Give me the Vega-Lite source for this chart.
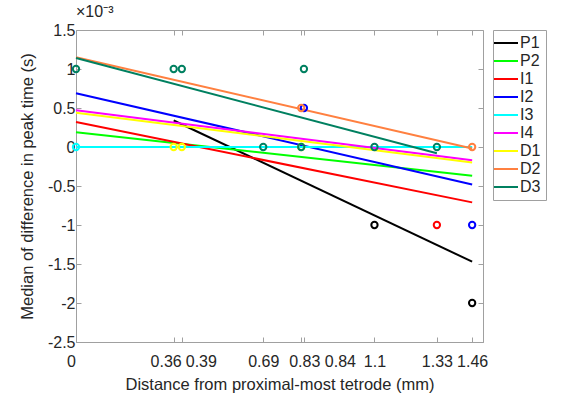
{
  "$schema": "https://vega.github.io/schema/vega-lite/v6.json",
  "width": 407,
  "height": 312,
  "autosize": {"type": "none"},
  "padding": {"left": 76, "top": 30, "right": 81, "bottom": 58},
  "background": "white",
  "config": {
    "font": "Liberation Sans",
    "view": {"stroke": "#a0a0a0", "strokeWidth": 1},
    "axis": {"grid": false, "domainColor": "#a0a0a0", "tickColor": "#a0a0a0", "labelColor": "#262626", "titleColor": "#262626", "labelFontSize": 16, "titleFontSize": 16.5, "titleFontWeight": "normal", "labelFont": "Liberation Sans", "titleFont": "Liberation Sans"}
  },
  "title": {"text": "×10⁻³", "anchor": "start", "frame": "group", "fontSize": 16, "fontWeight": "normal", "color": "#262626", "offset": 2, "dx": 0},
  "datasets": {
    "lines": [
      {"series": "P1", "x": 0.36, "y": 0.34},
      {"series": "P1", "x": 1.46, "y": -1.47},
      {"series": "P2", "x": 0, "y": 0.19},
      {"series": "P2", "x": 1.46, "y": -0.37},
      {"series": "I1", "x": 0, "y": 0.32},
      {"series": "I1", "x": 1.46, "y": -0.71},
      {"series": "I2", "x": 0, "y": 0.69},
      {"series": "I2", "x": 1.46, "y": -0.48},
      {"series": "I3", "x": 0, "y": 0},
      {"series": "I3", "x": 1.46, "y": 0},
      {"series": "I4", "x": 0, "y": 0.47},
      {"series": "I4", "x": 1.46, "y": -0.17},
      {"series": "D1", "x": 0, "y": 0.44},
      {"series": "D1", "x": 1.46, "y": -0.2},
      {"series": "D2", "x": 0, "y": 1.15},
      {"series": "D2", "x": 1.46, "y": -0.02},
      {"series": "D3", "x": 0, "y": 1.14},
      {"series": "D3", "x": 1.33, "y": -0.08}
    ],
    "points": [
      {"series": "P1", "x": 1.1, "y": -1},
      {"series": "P1", "x": 1.46, "y": -2},
      {"series": "I1", "x": 1.33, "y": -1},
      {"series": "I2", "x": 0.84, "y": 0.5},
      {"series": "I2", "x": 1.46, "y": -1},
      {"series": "I3", "x": 0, "y": 0},
      {"series": "D1", "x": 0.36, "y": 0},
      {"series": "D1", "x": 0.39, "y": 0},
      {"series": "D1", "x": 0.83, "y": 0},
      {"series": "D2", "x": 0.83, "y": 0.5},
      {"series": "D2", "x": 1.46, "y": 0},
      {"series": "D3", "x": 0, "y": 1},
      {"series": "D3", "x": 0.36, "y": 1},
      {"series": "D3", "x": 0.39, "y": 1},
      {"series": "D3", "x": 0.84, "y": 1},
      {"series": "D3", "x": 0.69, "y": 0},
      {"series": "D3", "x": 0.83, "y": 0},
      {"series": "D3", "x": 1.1, "y": 0},
      {"series": "D3", "x": 1.33, "y": 0}
    ]
  },
  "resolve": {"axis": {"x": "independent", "y": "independent"}},
  "layer": [
    {
      "data": {"name": "lines"},
      "mark": {"type": "line", "strokeWidth": 2, "clip": false},
      "encoding": {
        "x": {"field": "x", "type": "quantitative", "scale": {"domain": [0, 1.5], "nice": false, "zero": false},
          "axis": {"orient": "bottom", "title": "Distance from proximal-most tetrode (mm)", "values": [0, 0.36, 0.39, 0.69, 0.83, 0.84, 1.1, 1.33, 1.46], "labelExpr": "'' + datum.value", "labelOverlap": false, "labelFlush": false, "tickSize": -5, "labelPadding": 16, "titlePadding": 7,
            "labelOffset": {"expr": "datum.value == 0 ? -5 : datum.value == 0.36 ? -8 : datum.value == 0.39 ? 19 : datum.value == 0.83 ? 3 : datum.value == 0.84 ? 36 : 0"}}},
        "y": {"field": "y", "type": "quantitative", "scale": {"domain": [-2.5, 1.5], "nice": false, "zero": false},
          "axis": {"orient": "left", "title": "Median of difference in peak time (s)", "values": [-2.5, -2, -1.5, -1, -0.5, 0, 0.5, 1, 1.5], "labelExpr": "'' + datum.value", "labelOverlap": false, "labelFlush": false, "tickSize": -5, "labelPadding": 6, "titlePadding": 12}},
        "color": {"field": "series", "type": "nominal",
          "scale": {"domain": ["P1", "P2", "I1", "I2", "I3", "I4", "D1", "D2", "D3"], "range": ["#000000", "#00ff00", "#ff0000", "#0000ff", "#00ffff", "#ff00ff", "#ffff00", "#ff8040", "#008060"]},
          "legend": {"title": null, "orient": "right", "offset": 9, "padding": 5, "strokeColor": "#a0a0a0", "fillColor": "white", "labelFontSize": 16, "labelColor": "#262626", "labelFont": "Liberation Sans", "symbolType": "M-2,0H2", "symbolSize": 144, "symbolStrokeWidth": 2, "symbolOpacity": 1, "symbolFillColor": "transparent", "rowPadding": 2, "labelOffset": 6}}
      }
    },
    {
      "data": {"name": "points"},
      "mark": {"type": "point", "filled": false, "strokeWidth": 2, "size": 40, "opacity": 1, "clip": false},
      "encoding": {
        "x": {"field": "x", "type": "quantitative",
          "axis": {"orient": "top", "title": null, "labels": false, "domain": false, "values": [0, 0.36, 0.39, 0.69, 0.83, 0.84, 1.1, 1.33, 1.46], "tickSize": -5}},
        "y": {"field": "y", "type": "quantitative",
          "axis": {"orient": "right", "title": null, "labels": false, "domain": false, "values": [-2.5, -2, -1.5, -1, -0.5, 0, 0.5, 1, 1.5], "tickSize": -5}},
        "color": {"field": "series", "type": "nominal"}
      }
    }
  ]
}
